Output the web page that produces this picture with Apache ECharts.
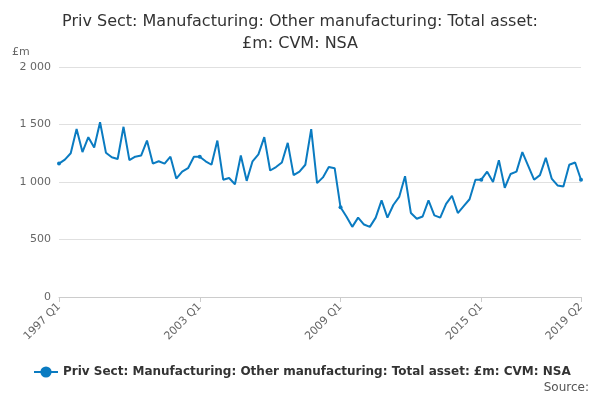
<!DOCTYPE html>
<html><head><meta charset="utf-8">
<script src="https://cdn.jsdelivr.net/npm/echarts@6/dist/echarts.min.js"></script>
<style>html,body{margin:0;padding:0;background:#fff}#c{width:600px;height:400px}</style>
</head><body><div id="c"></div>
<script>
const values = [1160,1195,1250,1460, 1260,1390,1300,1520, 1255,1215,1200,1480, 1190,1220,1230,1360,
 1160,1180,1160,1220, 1030,1090,1120,1220, 1220,1180,1150,1360, 1020,1035,980,1230,
 1010,1180,1240,1390, 1100,1130,1170,1340, 1060,1090,1150,1460, 990,1040,1130,1120,
 780,700,610,690, 630,610,690,840, 690,800,870,1050, 730,680,700,840,
 710,690,810,880, 730,790,850,1020, 1020,1090,1000,1190, 950,1070,1090,1260,
 1140,1020,1060,1210, 1030,970,960,1150, 1170,1020];
const categories = [];
for (let y = 1997; y <= 2019; y++) for (let q = 1; q <= 4; q++) if (categories.length < values.length) categories.push(y + ' Q' + q);
const seriesName = 'Priv Sect: Manufacturing: Other manufacturing: Total asset: £m: CVM: NSA';
const shown = new Set(['1997 Q1','2003 Q1','2009 Q1','2015 Q1','2019 Q2']);
const chart = echarts.init(document.getElementById('c'));
chart.setOption({
  animation:false,
  title:{text:'Priv Sect: Manufacturing: Other manufacturing: Total asset:\n£m: CVM: NSA',left:'center',top:6,
    textStyle:{fontFamily:'DejaVu Sans',fontSize:16,fontWeight:'normal',color:'#333',lineHeight:22}},
  graphic:[{type:'text',left:12,top:47,style:{text:'£m',fontFamily:'DejaVu Sans',fontSize:11,fill:'#666'}},
    {type:'text',right:11,top:382,style:{text:'Source:',fontFamily:'DejaVu Sans',fontSize:12,fill:'#555'}}],
  legend:{bottom:17,left:28,itemWidth:24,textStyle:{fontFamily:'DejaVu Sans',fontSize:12,fontWeight:'bold',color:'#333'}},
  grid:{left:59,right:19,top:67,bottom:103},
  xAxis:{type:'category',data:categories,boundaryGap:false,
    axisLine:{lineStyle:{color:'#ccc'}},axisTick:{alignWithLabel:true,interval:(i,v)=>shown.has(v),lineStyle:{color:'#ccc'}},
    axisLabel:{interval:(i,v)=>shown.has(v),rotate:45,color:'#666',fontFamily:'DejaVu Sans',fontSize:11}},
  yAxis:{type:'value',min:0,max:2000,interval:500,
    axisLabel:{color:'#666',fontFamily:'DejaVu Sans',fontSize:11,formatter:v=>v>=1000?String(v).replace(/(\d)(\d{3})$/,'$1 $2'):v},
    splitLine:{lineStyle:{color:'#e0e0e0'}}},
  series:[{name:seriesName,type:'line',data:values,color:'#0a7bc1',symbol:'circle',symbolSize:4,lineStyle:{width:2}}]
});
</script></body></html>
